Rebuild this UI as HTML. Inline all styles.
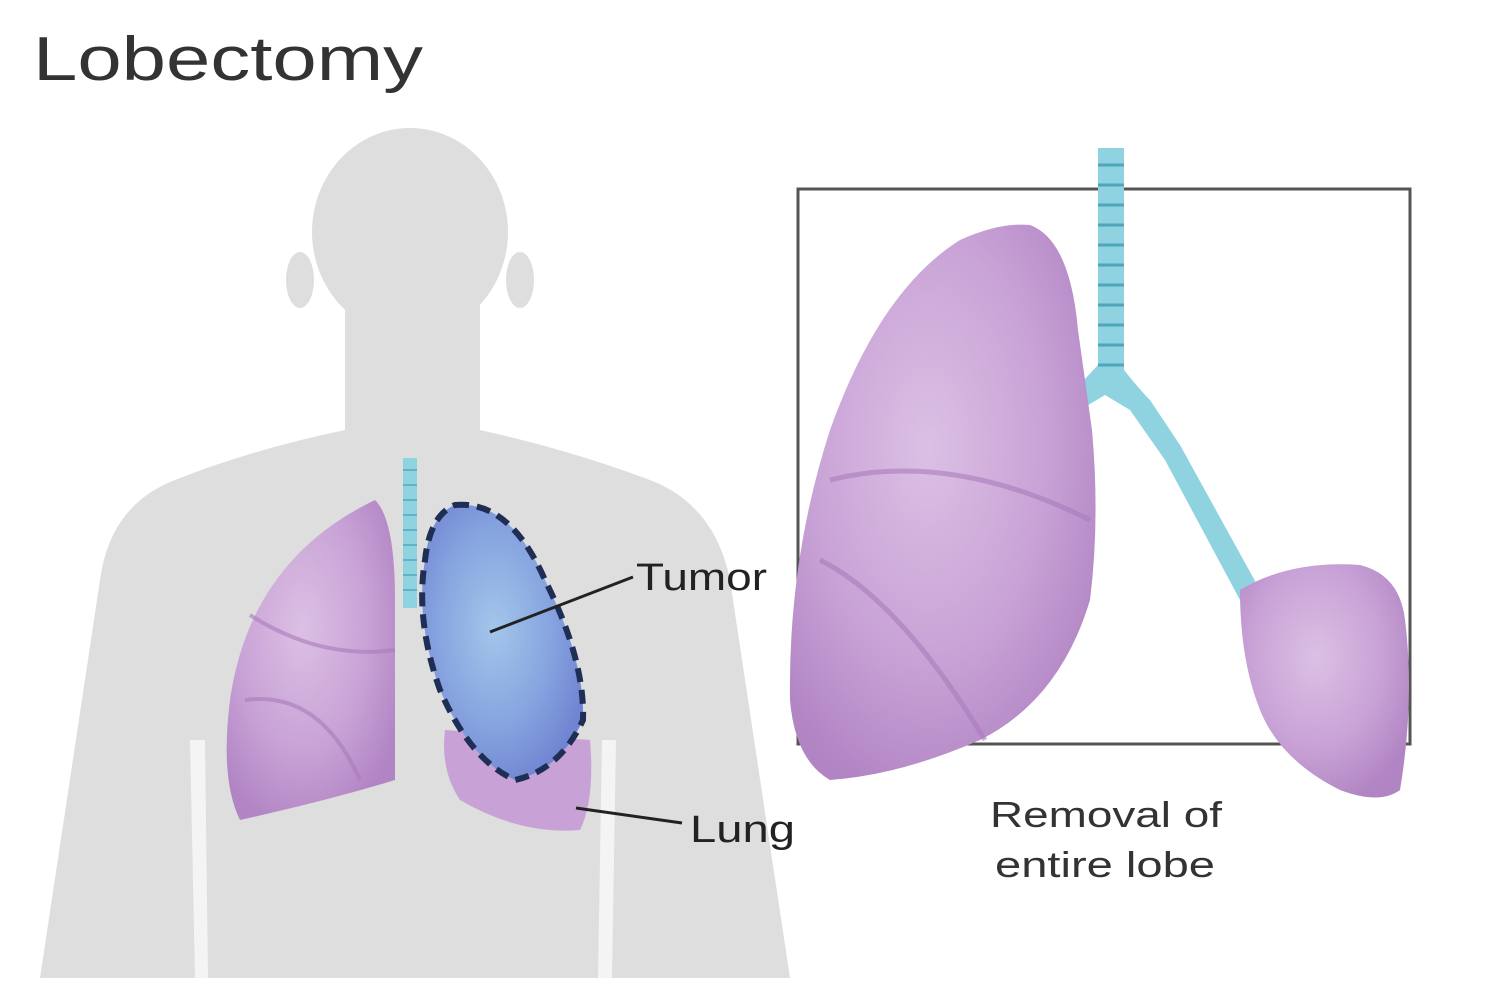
<!DOCTYPE html>
<html><head><meta charset="utf-8"><style>
html,body{margin:0;padding:0;background:#fff;}
svg{display:block}
text{font-family:"Liberation Sans",sans-serif;}
</style></head><body>
<svg width="1512" height="1006" viewBox="0 0 1512 1006" xmlns="http://www.w3.org/2000/svg">
<defs>
<radialGradient id="pur" cx="45%" cy="40%" r="65%">
<stop offset="0" stop-color="#dcc0e4"/><stop offset="0.6" stop-color="#c8a2d6"/><stop offset="1" stop-color="#b184c3"/>
</radialGradient>
<radialGradient id="blu" cx="45%" cy="45%" r="60%">
<stop offset="0" stop-color="#a3c6ea"/><stop offset="0.6" stop-color="#86a3df"/><stop offset="1" stop-color="#7085d2"/>
</radialGradient>
</defs>
<text x="33" y="80" font-size="62" fill="#333" textLength="390" lengthAdjust="spacingAndGlyphs">Lobectomy</text>
<!-- body -->
<g fill="#dedede">
<ellipse cx="410" cy="232" rx="98" ry="104"/>
<ellipse cx="300" cy="280" rx="14" ry="28"/>
<ellipse cx="520" cy="280" rx="14" ry="28"/>
<path d="M345 300 L345 430 Q250 450 175 480 Q110 505 100 580 L40 978 L790 978 L730 580 Q715 505 650 480 Q570 450 480 430 L480 300 Z"/>
</g>
<path d="M190 740 L195 978 L208 978 L205 740 Z" fill="#f4f4f4"/>
<path d="M602 740 L598 978 L612 978 L616 740 Z" fill="#f4f4f4"/>
<!-- trachea small -->
<rect x="403" y="458" width="14" height="150" fill="#8fd3e0"/>
<g stroke="#5fb3c6" stroke-width="2">
<line x1="403" y1="470" x2="417" y2="470"/><line x1="403" y1="485" x2="417" y2="485"/><line x1="403" y1="500" x2="417" y2="500"/><line x1="403" y1="515" x2="417" y2="515"/><line x1="403" y1="530" x2="417" y2="530"/><line x1="403" y1="545" x2="417" y2="545"/><line x1="403" y1="560" x2="417" y2="560"/><line x1="403" y1="575" x2="417" y2="575"/><line x1="403" y1="590" x2="417" y2="590"/>
</g>
<!-- left lung -->
<path d="M375 500 Q395 520 395 600 L395 780 Q330 800 240 820 Q220 780 230 700 Q250 560 375 500 Z" fill="url(#pur)"/>
<g stroke="#a87cbb" stroke-width="4" fill="none" opacity="0.6">
<path d="M250 615 Q320 660 395 650"/><path d="M245 700 Q320 690 360 780"/>
</g>
<!-- lower lobe right -->
<path d="M445 730 L590 740 Q595 800 580 830 Q520 835 460 800 Q440 770 445 730 Z" fill="#c8a2d6"/>
<!-- tumor lobe -->
<path d="M455 505 Q510 500 545 580 Q585 660 583 720 Q560 770 515 780 Q470 760 440 690 Q415 620 425 560 Q430 515 455 505 Z" fill="url(#blu)" stroke="#1f2e55" stroke-width="6" stroke-dasharray="14 8"/>
<line x1="490" y1="632" x2="633" y2="577" stroke="#222" stroke-width="3"/>
<line x1="576" y1="808" x2="682" y2="823" stroke="#222" stroke-width="3"/>
<text x="636" y="590" font-size="38" fill="#222" textLength="131" lengthAdjust="spacingAndGlyphs">Tumor</text>
<text x="690" y="842" font-size="38" fill="#222" textLength="105" lengthAdjust="spacingAndGlyphs">Lung</text>
<!-- box -->
<rect x="798" y="189" width="612" height="555" fill="none" stroke="#555" stroke-width="3"/>
<!-- big trachea -->
<path d="M1098 148 L1124 148 L1124 370 Q1140 390 1150 400 L1180 445 L1260 590 L1275 615 L1255 620 L1240 600 L1165 460 L1130 410 L1105 395 L1080 410 L1070 395 L1098 365 Z" fill="#8fd3e0"/>
<g stroke="#4ea6bd" stroke-width="3">
<line x1="1098" y1="165" x2="1124" y2="165"/><line x1="1098" y1="185" x2="1124" y2="185"/><line x1="1098" y1="205" x2="1124" y2="205"/><line x1="1098" y1="225" x2="1124" y2="225"/><line x1="1098" y1="245" x2="1124" y2="245"/><line x1="1098" y1="265" x2="1124" y2="265"/><line x1="1098" y1="285" x2="1124" y2="285"/><line x1="1098" y1="305" x2="1124" y2="305"/><line x1="1098" y1="325" x2="1124" y2="325"/><line x1="1098" y1="345" x2="1124" y2="345"/><line x1="1098" y1="365" x2="1124" y2="365"/>
</g>
<!-- big left lung -->
<path d="M1030 225 Q1070 240 1078 330 L1092 430 Q1100 520 1090 600 Q1060 700 980 740 Q900 775 830 780 Q795 760 790 700 Q788 560 830 430 Q880 290 960 240 Q1000 222 1030 225 Z" fill="url(#pur)"/>
<g stroke="#a87cbb" stroke-width="5" fill="none" opacity="0.6">
<path d="M830 480 Q950 450 1090 520"/><path d="M820 560 Q900 600 985 740"/>
</g>
<!-- small lobe -->
<path d="M1240 590 Q1290 560 1360 565 Q1400 575 1405 620 Q1415 700 1400 790 Q1380 805 1340 790 Q1280 760 1260 710 Q1240 660 1240 590 Z" fill="url(#pur)"/>
<text x="990" y="827" font-size="36" fill="#333" textLength="232" lengthAdjust="spacingAndGlyphs">Removal of</text>
<text x="995" y="877" font-size="36" fill="#333" textLength="220" lengthAdjust="spacingAndGlyphs">entire lobe</text>
</svg>
</body></html>
